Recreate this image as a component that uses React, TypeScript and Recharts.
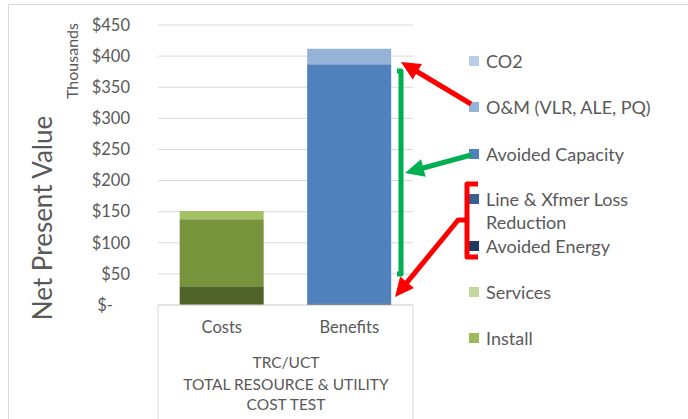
import React from "react";
import { BarChart, Bar, XAxis, YAxis, CartesianGrid } from "recharts";

const categories = ["Costs", "Benefits"];
const yTicks = [0, 50, 100, 150, 200, 250, 300, 350, 400, 450];

// values in $ thousands
const equipment = [30, 0];
const install = [108, 0];
const services = [13, 0];
const avoidedEnergy = [0, 1.5];
const lineLoss = [0, 1.5];
const avoidedCapacity = [0, 384];
const oAndM = [0, 25];
const co2 = [0, 0];

const data = categories.map((name, i) => ({
    name,
    equipment: equipment[i],
    install: install[i],
    services: services[i],
    avoidedEnergy: avoidedEnergy[i],
    lineLoss: lineLoss[i],
    avoidedCapacity: avoidedCapacity[i],
    oAndM: oAndM[i],
    co2: co2[i],
}));

// bottom-to-top stacking order
const series = [
    { key: "equipment", fill: "#4F6228" },
    { key: "install", fill: "#77933C" },
    { key: "services", fill: "#A2C162" },
    { key: "avoidedEnergy", fill: "#1F3864" },
    { key: "lineLoss", fill: "#366092" },
    { key: "avoidedCapacity", fill: "#4F81BD" },
    { key: "oAndM", fill: "#95B3D7" },
    { key: "co2", fill: "#B9CDE5" },
];

const legendItems = [
    { label: ["CO2"], color: "#B9CDE5", y: 62 },
    { label: ["O&M (VLR, ALE, PQ)"], color: "#95B3D7", y: 108 },
    { label: ["Avoided Capacity"], color: "#4F81BD", y: 155 },
    { label: ["Line & Xfmer Loss", "Reduction"], color: "#366092", y: 200 },
    { label: ["Avoided Energy"], color: "#1F3864", y: 247 },
    { label: ["Services"], color: "#C3D69B", y: 293 },
    { label: ["Install"], color: "#9BBB59", y: 339 },
];

const FONT = "Lato, 'Open Sans', sans-serif";
const GREY = "#595959";

function YTick({ y, payload }: any) {
    const v = payload.value;
    return (
        <text x={v === 0 ? 113 : 130} y={y} dy="0.35em" textAnchor="end" fill={GREY} fontSize={16.5} fontFamily={FONT}>
            {v === 0 ? "$-" : `$${v}`}
        </text>
    );
}

function LegendBox() {
    return (
        <div style={{ position: "absolute", left: 0, top: 0, width: 688, height: 419, pointerEvents: "none" }}>
            {legendItems.map((it) => (
                <div key={it.label[0]}>
                    <div style={{ position: "absolute", left: 469, top: it.y - 6, width: 10, height: 10, background: it.color }} />
                    {it.label.map((l, j) => (
                        <div key={l} style={{ position: "absolute", left: 486, top: it.y - 12 + j * 23, fontSize: 18, lineHeight: "22px", color: GREY, fontFamily: FONT, whiteSpace: "nowrap" }}>
                            {l}
                        </div>
                    ))}
                </div>
            ))}
        </div>
    );
}

function Arrow({ x1, y1, x2, y2, color, w = 5, head = 19, hw = 9 }: any) {
    const dx = x2 - x1, dy = y2 - y1;
    const len = Math.sqrt(dx * dx + dy * dy);
    const ux = dx / len, uy = dy / len;
    const bx = x2 - ux * head, by = y2 - uy * head;
    const px = -uy * hw, py = ux * hw;
    return (
        <g>
            <line x1={x1} y1={y1} x2={bx + ux * 2} y2={by + uy * 2} stroke={color} strokeWidth={w} />
            <polygon points={`${x2},${y2} ${bx + px},${by + py} ${bx - px},${by - py}`} fill={color} />
        </g>
    );
}

function Overlay() {
    return (
        <svg width={688} height={419} style={{ position: "absolute", left: 0, top: 0, pointerEvents: "none" }}>
            <path d="M8.5,419 V4.5 H688" fill="none" stroke="#D9D9D9" />
            <line x1={158} y1={305} x2={158} y2={419} stroke="#D9D9D9" />
            <line x1={413} y1={305} x2={413} y2={419} stroke="#D9D9D9" />
            <text x={43} y={218} transform="rotate(-90 43 218)" textAnchor="middle" dy="0.35em" fill={GREY} fontSize={26} fontFamily={FONT}>
                Net Present Value
            </text>
            <text x={72} y={61} transform="rotate(-90 72 61)" textAnchor="middle" dy="0.35em" fill={GREY} fontSize={16} fontFamily={FONT}>
                Thousands
            </text>
            <g fill={GREY} fontSize={15.5} fontFamily={FONT} textAnchor="middle">
                <text x={286} y={363} dy="0.35em">TRC/UCT</text>
                <text x={286} y={385} dy="0.35em">TOTAL RESOURCE &amp; UTILITY</text>
                <text x={286} y={405} dy="0.35em">COST TEST</text>
            </g>
            <path d="M397,71 H401 V274 H397" fill="none" stroke="#00B050" strokeWidth={5} strokeLinejoin="round" />
            <path d="M478,184 H467 V257 H478 M467,220 H458" fill="none" stroke="#FF0000" strokeWidth={5} strokeLinejoin="round" />
            <Arrow x1={471} y1={104} x2={401} y2={62} color="#FF0000" />
            <Arrow x1={471} y1={155} x2={405} y2={173} color="#00B050" />
            <Arrow x1={459} y1={219} x2={395} y2={297} color="#FF0000" />
        </svg>
    );
}

export default function App() {
    return (
        <div style={{ position: "absolute", left: 0, top: 0, width: 688, height: 419, background: "#fff", overflow: "hidden" }}>
            <BarChart
                width={688}
                height={419}
                data={data}
                margin={{ top: 25, right: 275, left: 0, bottom: 0 }}
                barCategoryGap="17%"
            >
                <CartesianGrid stroke="#D9D9D9" vertical={false} />
                <XAxis
                    dataKey="name"
                    axisLine={{ stroke: "#D9D9D9" }}
                    tickLine={false}
                    tickSize={0}
                    tickMargin={16}
                    tick={{ fill: GREY, fontSize: 16.5, fontFamily: FONT }}
                    height={114}
                />
                <YAxis
                    width={158}
                    domain={[0, 450]}
                    ticks={yTicks}
                    axisLine={false}
                    tickLine={false}
                    tick={<YTick />}
                    interval={0}
                />
                {series.map((s) => (
                    <Bar key={s.key} dataKey={s.key} stackId="a" fill={s.fill} isAnimationActive={false} />
                ))}
            </BarChart>
            <LegendBox />
            <Overlay />
        </div>
    );
}
